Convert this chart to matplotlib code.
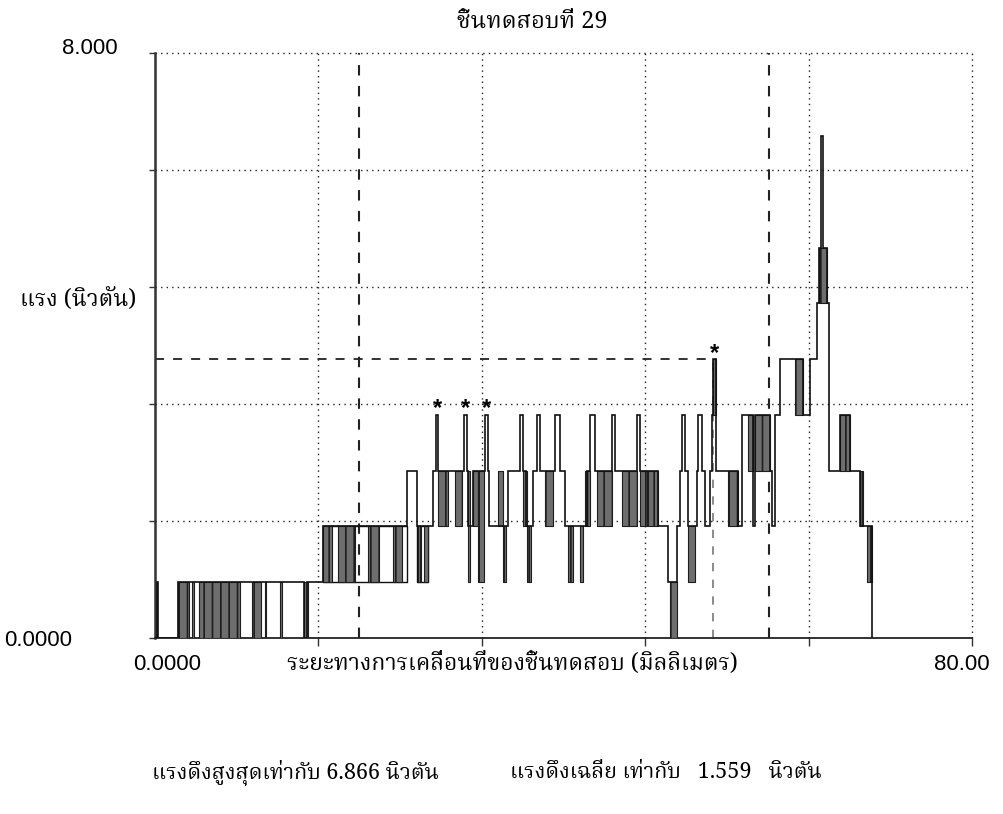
import numpy as np
import matplotlib
matplotlib.use("Agg")
import matplotlib.pyplot as plt
from matplotlib import font_manager as fm
from matplotlib.ft2font import FT2Font

# ---------------- data ----------------
title_text = "ชิ้นทดสอบที่ 29"
x_label = "ระยะทางการเคลื่อนที่ของชิ้นทดสอบ (มิลลิเมตร)"
y_label = "แรง (นิวตัน)"
x_tick_labels = ["0.0000", "80.00"]
y_tick_labels = ["8.000", "0.0000"]
max_force = 6.866
mean_force = 1.559
max_text = "แรงดึงสูงสุดเท่ากับ 6.866 นิวตัน"
mean_text = "แรงดึงเฉลี่ย เท่ากับ   1.559   นิวตัน"

x_range = (0.0, 80.0)
y_range = (0.0, 8.0)
grid_x = [16, 32, 48, 64, 80]
grid_y = [1.6, 3.2, 4.8, 6.4, 8.0]

# quantised force levels of the load cell (N); the last one is the maximum
force_levels = [0.0, 0.763, 1.526, 2.289, 3.052, 3.814, 4.577, 5.340, 6.103, max_force]

# step trace: segment edges (mm) and level index of each segment
trace_edges = [0.0, 0.15, 0.29, 2.25, 14.59, 14.88, 16.45, 24.68, 25.65, 27.22,
               27.52, 27.71, 30.26, 30.55, 30.65, 31.14, 32.31, 32.61, 32.71, 34.57,
               35.74, 36.03, 36.30, 37.01, 37.41, 37.70, 39.17, 39.66, 40.15, 42.30,
               42.59, 43.08, 44.75, 45.04, 47.20, 47.49, 49.25, 50.23, 51.11, 51.41,
               51.60, 51.90, 52.19, 53.07, 53.17, 53.56, 53.86, 54.35, 54.54, 54.64,
               54.93, 57.09, 57.48, 58.56, 58.75, 60.22, 60.42, 60.71, 61.20, 63.45,
               64.14, 64.82, 65.02, 65.21, 65.41, 65.80, 66.00, 67.07, 68.05, 69.03,
               69.72, 70.21, 70.31]
trace_levels = [0, 1, 0, 1, 0, 1, 2, 3, 2, 3,
                4, 3, 4, 3, 2, 3, 4, 3, 2, 3,
                4, 3, 2, 3, 4, 3, 4, 3, 2, 3,
                4, 3, 4, 3, 4, 3, 2, 1, 2, 3,
                4, 3, 2, 3, 4, 3, 2, 3, 4, 5,
                3, 2, 4, 2, 4, 3, 2, 4, 5, 4,
                5, 6, 7, 9, 7, 6, 3, 4, 3, 2,
                2, 0]

# stretches where the reading flickers rapidly between two levels:
# (start mm, end mm, low level, high level)
dense_bands = [
    (2.25, 3.33, 0, 1), (3.62, 3.80, 0, 1), (4.31, 8.32, 0, 1),
    (9.50, 10.40, 0, 1), (10.77, 10.90, 0, 1), (12.24, 12.40, 0, 1),
    (14.59, 14.95, 0, 1),
    (16.45, 17.33, 1, 2), (17.92, 19.58, 1, 2), (20.86, 21.93, 1, 2),
    (23.30, 24.19, 1, 2), (25.75, 26.00, 1, 2), (26.35, 26.75, 1, 2),
    (27.75, 28.70, 2, 3), (29.40, 30.06, 2, 3), (30.60, 30.80, 1, 3),
    (31.15, 31.60, 2, 3), (31.60, 32.20, 1, 3), (33.60, 34.10, 2, 3),
    (34.10, 34.40, 1, 2), (36.00, 36.40, 2, 3), (36.40, 36.80, 1, 2),
    (38.20, 39.00, 2, 3), (40.40, 40.90, 1, 2), (41.60, 41.90, 1, 2),
    (42.10, 42.60, 2, 3), (43.30, 44.75, 2, 3), (45.70, 47.20, 2, 3),
    (47.50, 48.20, 2, 3), (48.27, 49.25, 2, 3), (50.43, 51.11, 0, 1),
    (52.20, 52.88, 1, 2), (54.60, 54.90, 4, 5), (56.11, 57.09, 2, 3),
    (58.07, 58.56, 3, 4), (58.75, 60.22, 3, 4), (62.67, 63.45, 4, 5),
    (65.02, 65.80, 6, 7), (67.07, 68.05, 3, 4), (69.03, 69.33, 2, 3),
    (69.72, 70.21, 1, 2),
]
# sparser flicker, seen as an open box between the two levels
open_bands = [(16.45, 24.68, 1, 2), (25.65, 26.75, 1, 2)]

# detected peaks (mm, level index)
star_peaks = [(27.62, 4), (30.40, 4), (32.46, 4), (54.78, 5)]
# marked peak and the averaging window
marked_peak = (54.64, 5)
window_marks = [20.0, 60.1]


# ---------------- fonts ----------------
def find_thai_family():
    probe = "ชิ้นทดสอบแรงดึง"
    found = []
    for f in fm.fontManager.ttflist:
        try:
            cmap = FT2Font(f.fname).get_charmap()
        except Exception:
            continue
        if all(ord(c) in cmap for c in probe):
            found.append(f.name)
    for pref in ["Noto Serif Thai", "Norasi", "Kinnari", "TH Sarabun New",
                 "Noto Sans Thai", "Loma", "Garuda"]:
        if pref in found:
            return pref
    return found[0] if found else "DejaVu Sans"


thai = [find_thai_family(), "DejaVu Sans"]
latin = ["Liberation Sans", "DejaVu Sans"]

# ---------------- figure ----------------
W, H = 1004, 814
fig = plt.figure(figsize=(W / 100, H / 100), dpi=100)
fig.patch.set_facecolor("white")
ax_l, ax_r, ax_t, ax_b = 155, 972, 53, 638
ax = fig.add_axes([ax_l / W, 1 - ax_b / H, (ax_r - ax_l) / W, (ax_b - ax_t) / H])
ax.set_xlim(*x_range)
ax.set_ylim(*y_range)

dot = (0, (1, 3))
for gx in grid_x:
    ax.axvline(gx, color="#222222", lw=1.0, ls=dot, zorder=1, clip_on=False)
for gy in grid_y:
    ax.axhline(gy, color="#222222", lw=1.0, ls=dot, zorder=1, clip_on=False)

for s in ("top", "right"):
    ax.spines[s].set_visible(False)
ax.spines["left"].set_linewidth(1.8)
ax.spines["left"].set_color("#333333")
ax.spines["bottom"].set_linewidth(1.3)
ax.spines["bottom"].set_color("#222222")

ax.set_xticks(grid_x)
ax.set_xticklabels([""] * len(grid_x))
ax.set_yticks([0] + grid_y)
ax.set_yticklabels([""] * (len(grid_y) + 1))
ax.tick_params(axis="x", direction="out", length=6, width=1.0, color="#333333")
ax.tick_params(axis="y", direction="out", length=4, width=1.0, color="#333333")

# flicker bands
plt.rcParams["hatch.linewidth"] = 1.2
for x0, x1, lo, hi in open_bands:
    ax.fill_between([x0, x1], force_levels[lo], force_levels[hi],
                    facecolor="none", edgecolor="#111111", lw=1.0, zorder=3)
for x0, x1, lo, hi in dense_bands:
    ax.fill_between([x0, x1], force_levels[lo], force_levels[hi],
                    facecolor="#6e6e6e", edgecolor="#1e1e1e", hatch="||",
                    lw=0.8, zorder=3)

# main trace
trace_force = [force_levels[k] for k in trace_levels]
ax.stairs(trace_force, trace_edges, baseline=None, color="#111111", lw=1.2, zorder=4)

# dashed markers
dash = (0, (5, 5))
for wx in window_marks:
    ax.axvline(wx, color="#222222", lw=1.5, ls=dash, zorder=2)
px, plev = marked_peak
ax.plot([0, px], [force_levels[plev]] * 2, color="#222222", lw=1.3, ls=dash, zorder=2)
ax.plot([px, px], [0, force_levels[plev]], color="#777777", lw=1.2, ls=dash, zorder=2)

# peak stars
for sx, slev in star_peaks:
    ax.annotate("*", xy=(sx, force_levels[slev]), xytext=(0, -4),
                textcoords="offset points", ha="center", va="bottom",
                fontsize=17, fontweight="bold", family=latin, zorder=5)

# ---------------- text ----------------
def ftext(x, y, s, **kw):
    fig.text(x / W, 1 - y / H, s, **kw)

ftext(532, 22, title_text, ha="center", va="center", fontsize=17, family=thai)
ftext(20, 300, y_label, ha="left", va="center", fontsize=16.5, family=thai)
ftext(512, 664, x_label, ha="center", va="center", fontsize=16.5, family=thai)
ftext(118, 48, y_tick_labels[0], ha="right", va="center", fontsize=16, family=latin)
ftext(72, 640, y_tick_labels[1], ha="right", va="center", fontsize=16, family=latin)
ftext(167, 664, x_tick_labels[0], ha="center", va="center", fontsize=16, family=latin)
ftext(962, 664, x_tick_labels[1], ha="center", va="center", fontsize=16, family=latin)
ftext(152, 772, max_text, ha="left", va="center", fontsize=15.5, family=thai)
ftext(510, 772, mean_text, ha="left", va="center", fontsize=15.5, family=thai)

fig.savefig("out.png", dpi=100, facecolor="white")
